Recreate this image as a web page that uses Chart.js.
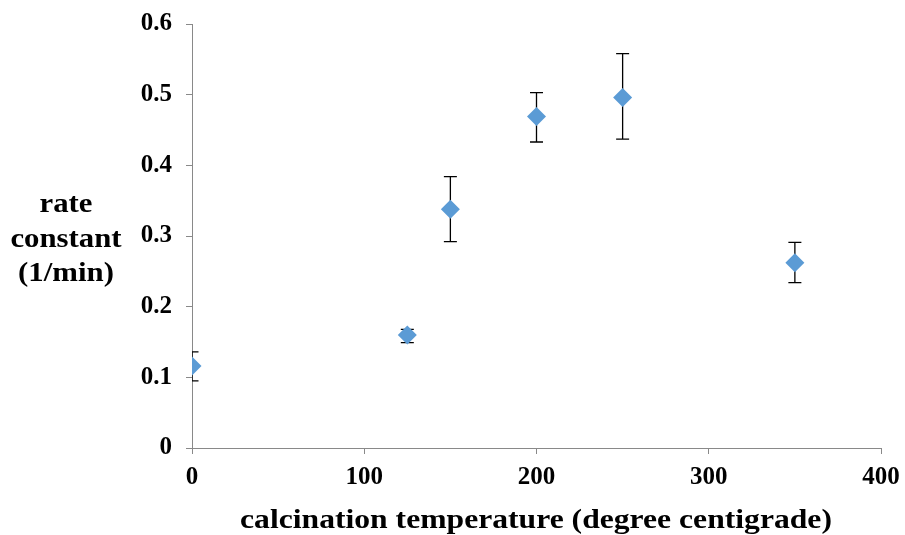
<!DOCTYPE html>
<html>
<head>
<meta charset="utf-8">
<script src="https://cdn.jsdelivr.net/npm/chart.js@4"></script>
<style>
  html, body { margin: 0; padding: 0; background: #fff; }
  #wrap { width: 905px; height: 535px; }
</style>
</head>
<body>
<div id="wrap"><canvas id="chart" width="905" height="535"></canvas></div>
<script>
// calcination temperature vs rate constant, with error bars
const temps = [0, 125, 150, 200, 250, 350];
const rates = [0.116, 0.160, 0.338, 0.469, 0.496, 0.262];
const rateHigh = [0.136, 0.168, 0.384, 0.503, 0.558, 0.291];
const rateLow = [0.095, 0.149, 0.292, 0.433, 0.437, 0.234];
const xTicks = [0, 100, 200, 300, 400];
const yTicks = [0, 0.1, 0.2, 0.3, 0.4, 0.5, 0.6];

const yTitle = ["rate", "constant", "(1/min)"];
const xTitle = "calcination temperature (degree centigrade)";

const FONT = "'Liberation Serif', 'Times New Roman', serif";
const axisGray = "#898989";

// error bars, drawn under the markers, clipped at the y axis like the original
const errorBars = {
  id: "errorBars",
  beforeDatasetsDraw(chart) {
    const ctx = chart.ctx;
    const xs = chart.scales.x, ys = chart.scales.y;
    const area = chart.chartArea;
    ctx.save();
    ctx.beginPath();
    ctx.rect(area.left, 0, chart.width - area.left, chart.height);
    ctx.clip();
    ctx.strokeStyle = "#000";
    ctx.lineWidth = 1.3;
    temps.forEach((t, i) => {
      const px = xs.getPixelForValue(t);
      const top = ys.getPixelForValue(rateHigh[i]);
      const bot = ys.getPixelForValue(rateLow[i]);
      ctx.beginPath();
      ctx.moveTo(px, top); ctx.lineTo(px, bot);
      ctx.moveTo(px - 6.5, top); ctx.lineTo(px + 6.5, top);
      ctx.moveTo(px - 6.5, bot); ctx.lineTo(px + 6.5, bot);
      ctx.stroke();
    });
    ctx.restore();
  }
};

// axis titles (the original text is a little wide, so stretch it horizontally)
const titles = {
  id: "titles",
  afterDraw(chart) {
    const ctx = chart.ctx;
    ctx.save();
    ctx.fillStyle = "#000";
    ctx.font = "bold 28px " + FONT;
    ctx.textAlign = "center";
    ctx.textBaseline = "alphabetic";
    const base = [212, 247, 281];
    ctx.save();
    ctx.scale(1.1, 1);
    yTitle.forEach((line, i) => ctx.fillText(line, 66 / 1.1, base[i]));
    ctx.restore();
    ctx.scale(1.13, 1);
    ctx.fillText(xTitle, 536 / 1.13, 528);
    ctx.restore();
  }
};

new Chart(document.getElementById("chart"), {
  type: "scatter",
  data: {
    datasets: [{
      data: temps.map((t, i) => ({ x: t, y: rates[i] })),
      pointStyle: "rectRot",
      pointRadius: 9.5,
      pointHoverRadius: 9.5,
      backgroundColor: "#5B9BD5",
      borderColor: "#5B9BD5",
      borderWidth: 0
    }]
  },
  options: {
    responsive: false,
    animation: false,
    layout: { padding: { left: 0, right: 24, top: 24, bottom: 0 } },
    plugins: { legend: { display: false }, tooltip: { enabled: false } },
    scales: {
      x: {
        type: "linear",
        min: 0, max: 400,
        afterBuildTicks: axis => { axis.ticks = xTicks.map(v => ({ value: v })); },
        afterFit: axis => {
          axis.height = 87;
          axis.paddingLeft = 0; axis.paddingRight = 0;
        },
        grid: { drawOnChartArea: false, drawTicks: true, tickLength: 6, color: axisGray },
        border: { color: axisGray, width: 1 },
        ticks: { color: "#000", padding: 9, font: { family: FONT, size: 25, weight: "bold" } }
      },
      y: {
        min: 0, max: 0.6,
        afterBuildTicks: axis => { axis.ticks = yTicks.map(v => ({ value: v })); },
        afterFit: axis => {
          axis.width = 192;
          axis.paddingTop = 0; axis.paddingBottom = 0;
        },
        grid: { drawOnChartArea: false, drawTicks: true, tickLength: 6, color: axisGray },
        border: { color: axisGray, width: 1 },
        ticks: {
          color: "#000", padding: 14,
          font: { family: FONT, size: 25, weight: "bold" },
          callback: v => (v === 0 ? "0" : v.toFixed(1))
        }
      }
    }
  },
  plugins: [errorBars, titles]
});
</script>
</body>
</html>
